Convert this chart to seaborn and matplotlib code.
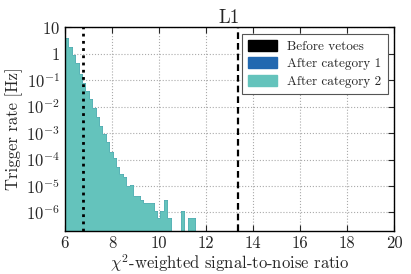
import numpy as np
import pandas as pd
import matplotlib
matplotlib.use("Agg")
import matplotlib.pyplot as plt
import matplotlib.ticker as mticker
from matplotlib.patches import Patch
import seaborn as sns

# ---- data ----
bin_start = 6.0
bin_width = 0.145
# trigger rate [Hz] per bin (after category 2 vetoes), 0 = empty bin
rate_cat2 = [3.8, 1.8, 0.88, 0.43, 0.17, 0.081, 0.040, 0.019, 8.7e-3, 3.9e-3,
             1.9e-3, 8.9e-4, 4.5e-4, 1.9e-4, 1.1e-4, 5.4e-5, 2.8e-5, 2.1e-5, 1.0e-5, 1.1e-5,
             4.2e-6, 4.2e-6, 3.0e-6, 2.3e-6, 2.3e-6, 2.3e-6, 1.15e-6, 6e-7, 1.15e-6, 3.0e-6,
             6e-7, 0, 0, 0, 1.15e-6, 0, 6e-7, 6e-7]
# the earlier stages are hidden completely behind category 2 in the plot
rate_cat1 = list(rate_cat2)
rate_before = list(rate_cat2)

series_labels = ["Before vetoes", "After category 1", "After category 2"]
series_colors = ["#000000", "#2268b0", "#64c3bc"]

dotted_line_x = 6.75
dashed_line_x = 13.36

yticks = [1e-6, 1e-5, 1e-4, 1e-3, 1e-2, 1e-1, 1, 10]
ytick_labels = [r"$10^{-6}$", r"$10^{-5}$", r"$10^{-4}$", r"$10^{-3}$",
                r"$10^{-2}$", r"$10^{-1}$", r"$1$", r"$10$"]
xticks = [6, 8, 10, 12, 14, 16, 18, 20]

# ---- style ----
sns.set_style("ticks")
plt.rcParams["font.family"] = ["serif"]
plt.rcParams["font.serif"] = ["cmr10", "DejaVu Serif"]
plt.rcParams["mathtext.fontset"] = "cm"
plt.rcParams["axes.unicode_minus"] = False
plt.rcParams["axes.formatter.use_mathtext"] = True

n_bins = len(rate_cat2)
edges = np.round(bin_start + bin_width * np.arange(n_bins + 1), 4)
centers = (edges[:-1] + edges[1:]) / 2

fig = plt.figure(figsize=(4.11, 2.74), dpi=100)
ax = fig.add_axes([0.158, 0.157, 0.801, 0.744])
ax.set_axisbelow(True)
ax.grid(True, which="major", linestyle=":", color="#aaaaaa", linewidth=0.8)

layers = [(rate_before, series_colors[0]),
          (rate_cat1, series_colors[1]),
          (rate_cat2, series_colors[2])]
for rates, col in layers:
    df = pd.DataFrame({"snr": centers, "rate": rates})
    sns.histplot(data=df, x="snr", weights="rate", bins=list(edges), ax=ax,
                 element="step", fill=True, color=col, alpha=1,
                 linewidth=0.5, edgecolor=col)

ax.axvline(dotted_line_x, color="black", linestyle=(0, (1, 1.6)), linewidth=2, zorder=5)
ax.axvline(dashed_line_x, color="black", linestyle=(0, (3, 1.8)), linewidth=1.6, zorder=5)

ax.set_yscale("log")
ax.set_ylim(2e-7, 10)
ax.set_xlim(6, 20)
ax.set_yticks(yticks)
ax.set_yticklabels(ytick_labels)
ax.yaxis.set_minor_locator(mticker.LogLocator(base=10, subs=np.arange(2, 10)))
ax.yaxis.set_minor_formatter(mticker.NullFormatter())
ax.set_xticks(xticks)
ax.set_xticklabels([str(t) for t in xticks])

ax.tick_params(which="both", direction="in", top=True, right=True, labelsize=12)
ax.tick_params(which="major", length=4, width=0.8)
ax.tick_params(which="minor", length=2, width=0.6)
for s in ax.spines.values():
    s.set_linewidth(1.0)
    s.set_color("black")

ax.set_xlabel(r"$\chi^2$-weighted signal-to-noise ratio", fontsize=12, labelpad=1)
ax.set_ylabel("Trigger rate [Hz]", fontsize=12, labelpad=2)
ax.set_title("L1", fontsize=13.5, pad=3)

handles = [Patch(facecolor=c, edgecolor=c) for c in series_colors]
leg = ax.legend(handles, series_labels, loc="upper right", fontsize=9.5,
                fancybox=False, framealpha=1, edgecolor="#555555",
                handlelength=2.2, handleheight=0.9, borderpad=0.45,
                labelspacing=0.35, handletextpad=0.8, borderaxespad=0.5)
leg.get_frame().set_linewidth(0.8)
leg.set_zorder(6)

fig.savefig("out.png", dpi=100)
